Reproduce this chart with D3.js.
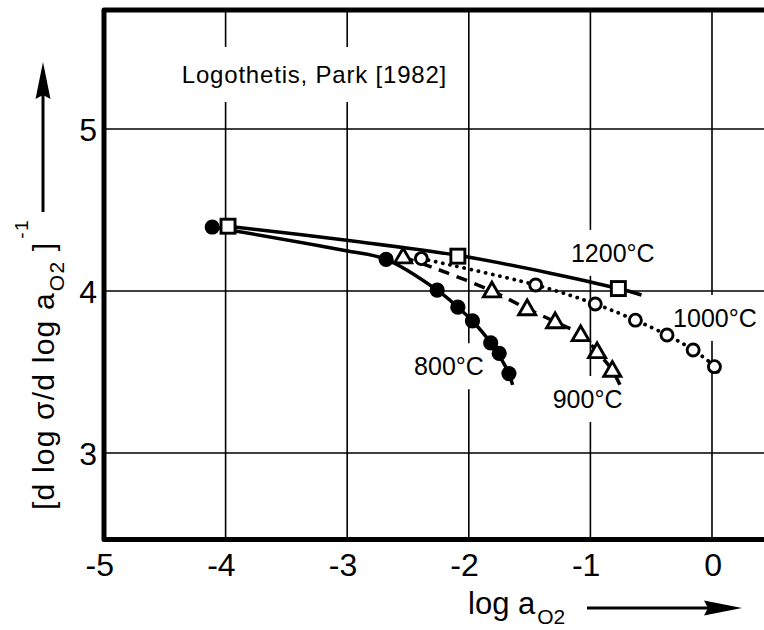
<!DOCTYPE html>
<html>
<head>
<meta charset="utf-8">
<script src="https://cdn.jsdelivr.net/npm/d3@7"></script>
<style>
html,body{margin:0;padding:0;background:#fff;}
svg{display:block;}
text{font-family:"Liberation Sans",Arial,sans-serif;fill:#000;}
</style>
</head>
<body>
<svg id="chart" width="764" height="630"></svg>
<script>
// ---------- data ----------
const xTicks = [-5, -4, -3, -2, -1, 0];
const xTickLabels = ["-5", "-4", "-3", "-2", "-1", "0"];
const yTicks = [3, 4, 5];
const yTickLabels = ["3", "4", "5"];

// 800 °C  (filled circles, solid line)
const x800 = [-4.11, -2.68, -2.26, -2.09, -1.97, -1.82, -1.75, -1.67];
const y800 = [4.395, 4.195, 4.005, 3.90, 3.815, 3.68, 3.615, 3.49];
const line800x = [-4.11, -3.02, -2.68, -2.26, -2.09, -1.97, -1.82, -1.67, -1.64];
const line800y = [4.395, 4.25, 4.195, 4.005, 3.90, 3.815, 3.68, 3.49, 3.42];

// 900 °C  (open triangles, dashed line)
const x900 = [-2.54, -1.81, -1.52, -1.29, -1.08, -0.945, -0.82];
const y900 = [4.21, 4.00, 3.89, 3.81, 3.73, 3.625, 3.51];
const line900x = [-2.54, -2.26, -1.81, -1.52, -1.29, -1.08, -0.945, -0.82, -0.75];
const line900y = [4.21, 4.135, 4.00, 3.89, 3.81, 3.73, 3.625, 3.51, 3.41];

// 1000 °C (open circles, dotted line)
const x1000 = [-2.39, -1.45, -0.96, -0.63, -0.37, -0.155, 0.02];
const y1000 = [4.20, 4.037, 3.92, 3.82, 3.728, 3.636, 3.533];
const line1000x = [-2.39, -1.45, -0.96, -0.63, -0.37, -0.155, 0.02, 0.065];
const line1000y = [4.20, 4.037, 3.92, 3.82, 3.728, 3.636, 3.533, 3.48];

// 1200 °C (open squares, solid line)
const x1200 = [-3.98, -2.09, -0.77];
const y1200 = [4.40, 4.215, 4.015];
const line1200x = [-3.98, -2.97, -2.09, -1.33, -0.77, -0.58];
const line1200y = [4.40, 4.31, 4.22, 4.11, 4.015, 3.975];

const seriesLabels = ["800°C", "900°C", "1000°C", "1200°C"];
const seriesLabelX = [-2.45, -1.31, -0.32, -1.16];
const seriesLabelY = [3.48, 3.278, 3.778, 4.18];
const titleText = "Logothetis, Park [1982]";

// ---------- scales ----------
const svg = d3.select("#chart");
const X = d3.scaleLinear().domain([-5, 0]).range([104, 712]);
const Y = d3.scaleLinear().domain([3, 5]).range([453, 129]);
const yTop = 5.735, yBot = 2.466;
const xRightPx = 764;

const gGrid = svg.append("g");
const gMask = svg.append("g");
const gLines = svg.append("g");
const gMarks = svg.append("g");
const gText = svg.append("g");

// grid
gGrid.selectAll("line.v").data(xTicks.slice(1)).join("line")
  .attr("x1", d => X(d)).attr("x2", d => X(d))
  .attr("y1", Y(yTop)).attr("y2", Y(yBot))
  .attr("stroke", "#000").attr("stroke-width", 1.6);
gGrid.selectAll("line.h").data(yTicks).join("line")
  .attr("x1", X(-5)).attr("x2", xRightPx)
  .attr("y1", d => Y(d)).attr("y2", d => Y(d))
  .attr("stroke", "#000").attr("stroke-width", 1.6);

// frame (left, top, bottom; right side cut off)
gText.append("path")
  .attr("d", `M${xRightPx},${Y(yTop)} H${X(-5)} V${Y(yBot)} H${xRightPx}`)
  .attr("fill", "none").attr("stroke", "#000").attr("stroke-width", 5)
  .attr("stroke-linejoin", "round");

// x tick labels
gText.selectAll("text.xt").data(xTicks).join("text")
  .attr("x", d => X(d) + 10).attr("y", 576)
  .attr("text-anchor", "end").attr("font-size", 32)
  .text((d, i) => xTickLabels[i]);
// y tick labels
gText.selectAll("text.yt").data(yTicks).join("text")
  .attr("x", 97).attr("y", d => Y(d) + 11.5)
  .attr("text-anchor", "end").attr("font-size", 32)
  .text((d, i) => yTickLabels[i]);

// lines
const lineGen = d3.line().x(d => X(d[0])).y(d => Y(d[1])).curve(d3.curveCatmullRom.alpha(0.5));
const zip = (a, b) => a.map((v, i) => [v, b[i]]);

gLines.append("path").datum(zip(line800x, line800y)).attr("d", lineGen)
  .attr("fill", "none").attr("stroke", "#000").attr("stroke-width", 3.5);
gLines.append("path").datum(zip(line1200x, line1200y)).attr("d", lineGen)
  .attr("fill", "none").attr("stroke", "#000").attr("stroke-width", 3.5);
gLines.append("path").datum(zip(line900x, line900y)).attr("d", lineGen)
  .attr("fill", "none").attr("stroke", "#000").attr("stroke-width", 3.5)
  .attr("stroke-dasharray", "11 8");
gLines.append("path").datum(zip(line1000x, line1000y)).attr("d", lineGen)
  .attr("fill", "none").attr("stroke", "#000").attr("stroke-width", 3.8)
  .attr("stroke-linecap", "round").attr("stroke-dasharray", "0.1 7.2");

// markers
gMarks.selectAll("circle.m800").data(zip(x800, y800)).join("circle")
  .attr("cx", d => X(d[0])).attr("cy", d => Y(d[1])).attr("r", 7.6).attr("fill", "#000");
gMarks.selectAll("circle.m1000").data(zip(x1000, y1000)).join("circle")
  .attr("cx", d => X(d[0])).attr("cy", d => Y(d[1])).attr("r", 6)
  .attr("fill", "#fff").attr("stroke", "#000").attr("stroke-width", 2.9);
const triPath = d3.symbol().type(d3.symbolTriangle).size(125)();
gMarks.selectAll("path.m900").data(zip(x900, y900)).join("path")
  .attr("d", triPath)
  .attr("transform", d => `translate(${X(d[0])},${Y(d[1]) + 1})`)
  .attr("fill", "#fff").attr("stroke", "#000").attr("stroke-width", 2.9)
  .attr("stroke-linejoin", "miter");
gMarks.selectAll("rect.m1200").data(zip(x1200, y1200)).join("rect")
  .attr("x", d => X(d[0]) - 7).attr("y", d => Y(d[1]) - 7)
  .attr("width", 14).attr("height", 14)
  .attr("fill", "#fff").attr("stroke", "#000").attr("stroke-width", 2.9);

// labels with white gaps in the grid
function maskedText(x, y, txt, size, padX, padY, ls) {
  const t = gText.append("text").attr("x", x).attr("y", y)
    .attr("font-size", size).attr("letter-spacing", ls || 0).text(txt);
  const b = t.node().getBBox();
  gMask.append("rect").attr("x", b.x - padX).attr("y", b.y - padY)
    .attr("width", b.width + 2 * padX).attr("height", b.height + 2 * padY)
    .attr("fill", "#fff");
  return t;
}
maskedText(X(-4.36), Y(5.284), titleText, 24, 6, 14, 0.8);
seriesLabels.forEach((s, i) => maskedText(X(seriesLabelX[i]), Y(seriesLabelY[i]), s, 25, 4, 9, 0));

// x axis label + arrow
const xl = gText.append("text").attr("x", 468).attr("y", 614).attr("font-size", 31);
xl.append("tspan").text("log a");
xl.append("tspan").attr("font-size", 21).attr("dy", 10).attr("dx", 2).text("O2");
gText.append("line").attr("x1", 587).attr("x2", 712).attr("y1", 608).attr("y2", 608)
  .attr("stroke", "#000").attr("stroke-width", 3);
gText.append("path").attr("d", "M742,608 L704,600.5 L708,608 L704,615.5 Z").attr("fill", "#000");

// y axis label + arrow
const yl = gText.append("text").attr("transform", "translate(54,510) rotate(-90)").attr("font-size", 30)
  .attr("letter-spacing", 1.2);
yl.append("tspan").text("[d log σ/d log a");
yl.append("tspan").attr("font-size", 21).attr("dy", 10).attr("dx", 1).text("O2");
yl.append("tspan").attr("dy", -10).text(" ]");
yl.append("tspan").attr("font-size", 19).attr("dy", -26).attr("dx", 3).text("-1");
gText.append("line").attr("x1", 43).attr("x2", 43).attr("y1", 212).attr("y2", 92)
  .attr("stroke", "#000").attr("stroke-width", 3);
gText.append("path").attr("d", "M43,62 L35.5,99 L43,95 L50.5,99 Z").attr("fill", "#000");
</script>
</body>
</html>
